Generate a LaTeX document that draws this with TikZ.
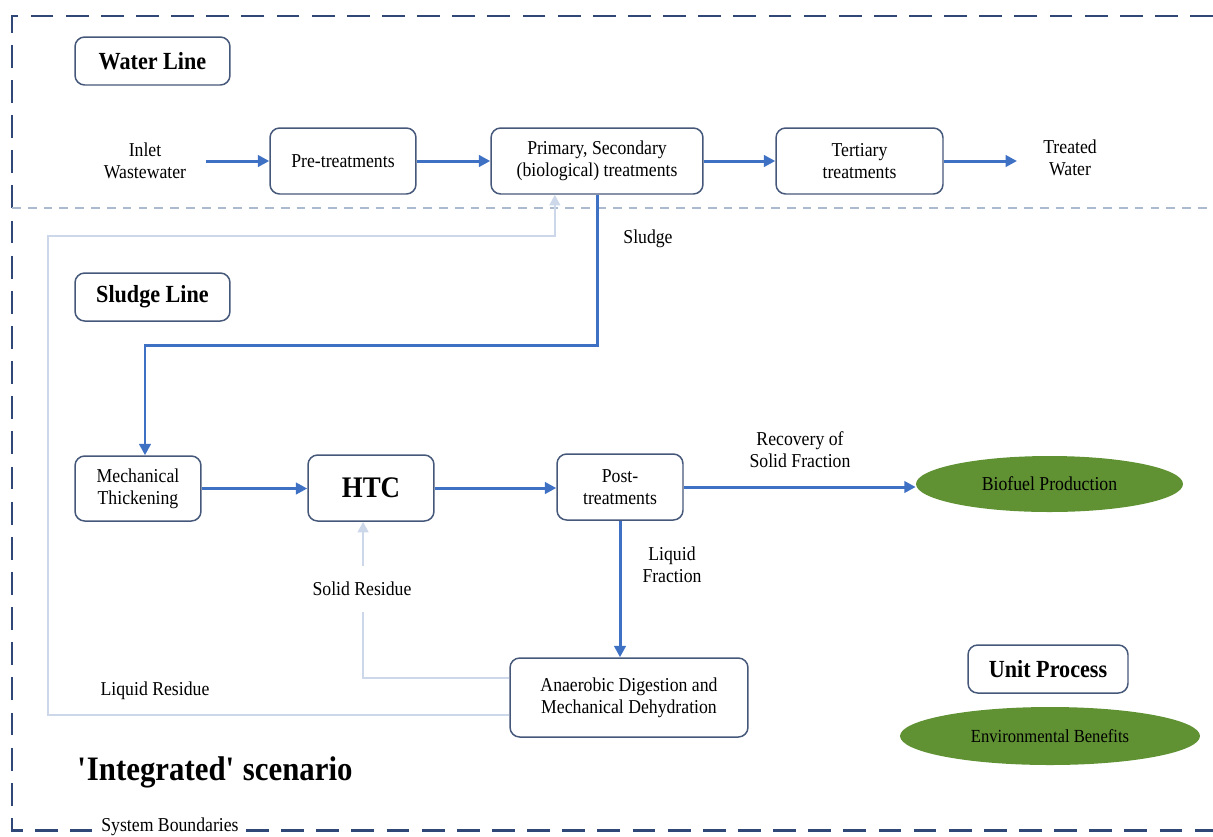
\documentclass[tikz,border=0pt]{standalone}
\usepackage{fontspec}
\setmainfont{Liberation Serif}[FakeStretch=0.9]
\usetikzlibrary{arrows.meta,shapes.geometric}
\definecolor{bound}{RGB}{47,72,120}
\definecolor{boxline}{RGB}{70,88,122}
\definecolor{flowblue}{RGB}{62,112,196}
\definecolor{backline}{RGB}{204,215,234}
\definecolor{sepline}{RGB}{172,186,208}
\definecolor{ecogreen}{RGB}{96,146,52}

\begin{document}
\begin{tikzpicture}[x=0.02cm, y=-0.02cm,
    txt/.style={align=center, font=\fontsize{11.2}{12.5}\selectfont},
    box/.style={txt, draw=boxline, line width=0.85pt, rounded corners=5.5pt,
        minimum height=1.32cm},
    title/.style={box, minimum width=3.1cm, minimum height=0.96cm,
        font=\fontsize{14}{16}\selectfont\bfseries},
    eco/.style={ellipse, fill=ecogreen, txt},
    flow/.style={draw=flowblue, line width=1.7pt, -{Triangle[length=6.5pt,width=6.5pt]}},
    back/.style={draw=backline, line width=1.4pt, -{Triangle[length=6pt,width=6pt]}},
    boundary/.style={draw=bound, line width=1.7pt, dash pattern=on 13pt off 7pt},
    sep/.style={draw=sepline, line width=0.7pt, dash pattern=on 5pt off 4pt}]
    \useasboundingbox (0,0) rectangle (1213,836);

    \draw[boundary] (1213,16) -- (12,16) -- (12,830) -- (92,830);
    \draw[boundary] (246,830) -- (1213,830);
    \draw[sep] (12,208) -- (1213,208);

    \node[title] (wl) at (152.5,61) {Water Line};
    \node[title] (sl) at (152.5,297) {Sludge Line};

    \node[txt] (inlet) at (145,161) {Inlet\\Wastewater};
    \node[box, minimum width=2.92cm] (pre) at (343,161) {Pre-treatments};
    \node[box, minimum width=4.24cm] (prim) at (597,161) {Primary, Secondary\\(biological) treatments};
    \node[box, minimum width=3.34cm] (tert) at (859.5,161) {Tertiary\\treatments};
    \node[txt] (treated) at (1070,158) {Treated\\Water};

    \node[box, minimum width=2.52cm, minimum height=1.3cm] (mech) at (138,488.5) {Mechanical\\Thickening};
    \node[box, minimum width=2.52cm, font=\fontsize{17}{19}\selectfont\bfseries] (htc) at (371,488) {HTC};
    \node[box, minimum width=2.52cm] (post) at (620,487) {Post-\\treatments};
    \node[eco, minimum width=5.34cm, minimum height=1.12cm] (bio) at (1049.5,484) {Biofuel Production};
    \node[box, minimum width=4.76cm, minimum height=1.58cm] (ad) at (629,697.5) {Anaerobic Digestion and\\Mechanical Dehydration};

    \node[title, minimum width=3.2cm] (unit) at (1048,669) {Unit Process};
    \node[eco, minimum width=6cm, minimum height=1.16cm, font=\fontsize{10.5}{12}\selectfont] (env) at (1050,736) {Environmental Benefits};

    \coordinate (sb) at (145,345);
    \coordinate (lrc) at (48,236);

    \draw[flow, shorten <=8pt] (inlet) -- (pre);
    \draw[flow] (pre) -- (prim);
    \draw[flow] (prim) -- (tert);
    \draw[flow] (tert) -- (tert -| 1017,0);
    \draw[flow] (prim.south) |- (sb) -- (mech.north -| sb);
    \draw[flow] (mech) -- (mech -| htc.west);
    \draw[flow] (htc) -- (htc -| post.west);
    \draw[flow] (post) -- (post -| bio.west);
    \draw[flow] (post) -- (post |- ad.north);
    \draw[back] ([yshift=11pt]ad.west) -| ([xshift=-4.5pt]htc.south);
    \draw[back] ([yshift=-10pt]ad.west) -| (lrc) -| ([xshift=-24pt]prim.south);

    \node[txt] (sludge) at (648,239) {Sludge};
    \node[txt] (recov) at (800,450) {Recovery of\\Solid Fraction};
    \node[txt] (liqf) at (672,565) {Liquid\\Fraction};
    \node[txt, fill=white, inner ysep=9pt] (solid) at (362,589) {Solid Residue};
    \node[txt] (liqr) at (155,691) {Liquid Residue};

    \node[font=\fontsize{19.5}{22}\selectfont\bfseries] (scen) at (215,772) {\textquotesingle Integrated\textquotesingle\ scenario};
    \node[txt, anchor=base] (sysb) at (170,831) {System Boundaries};
\end{tikzpicture}
\end{document}
